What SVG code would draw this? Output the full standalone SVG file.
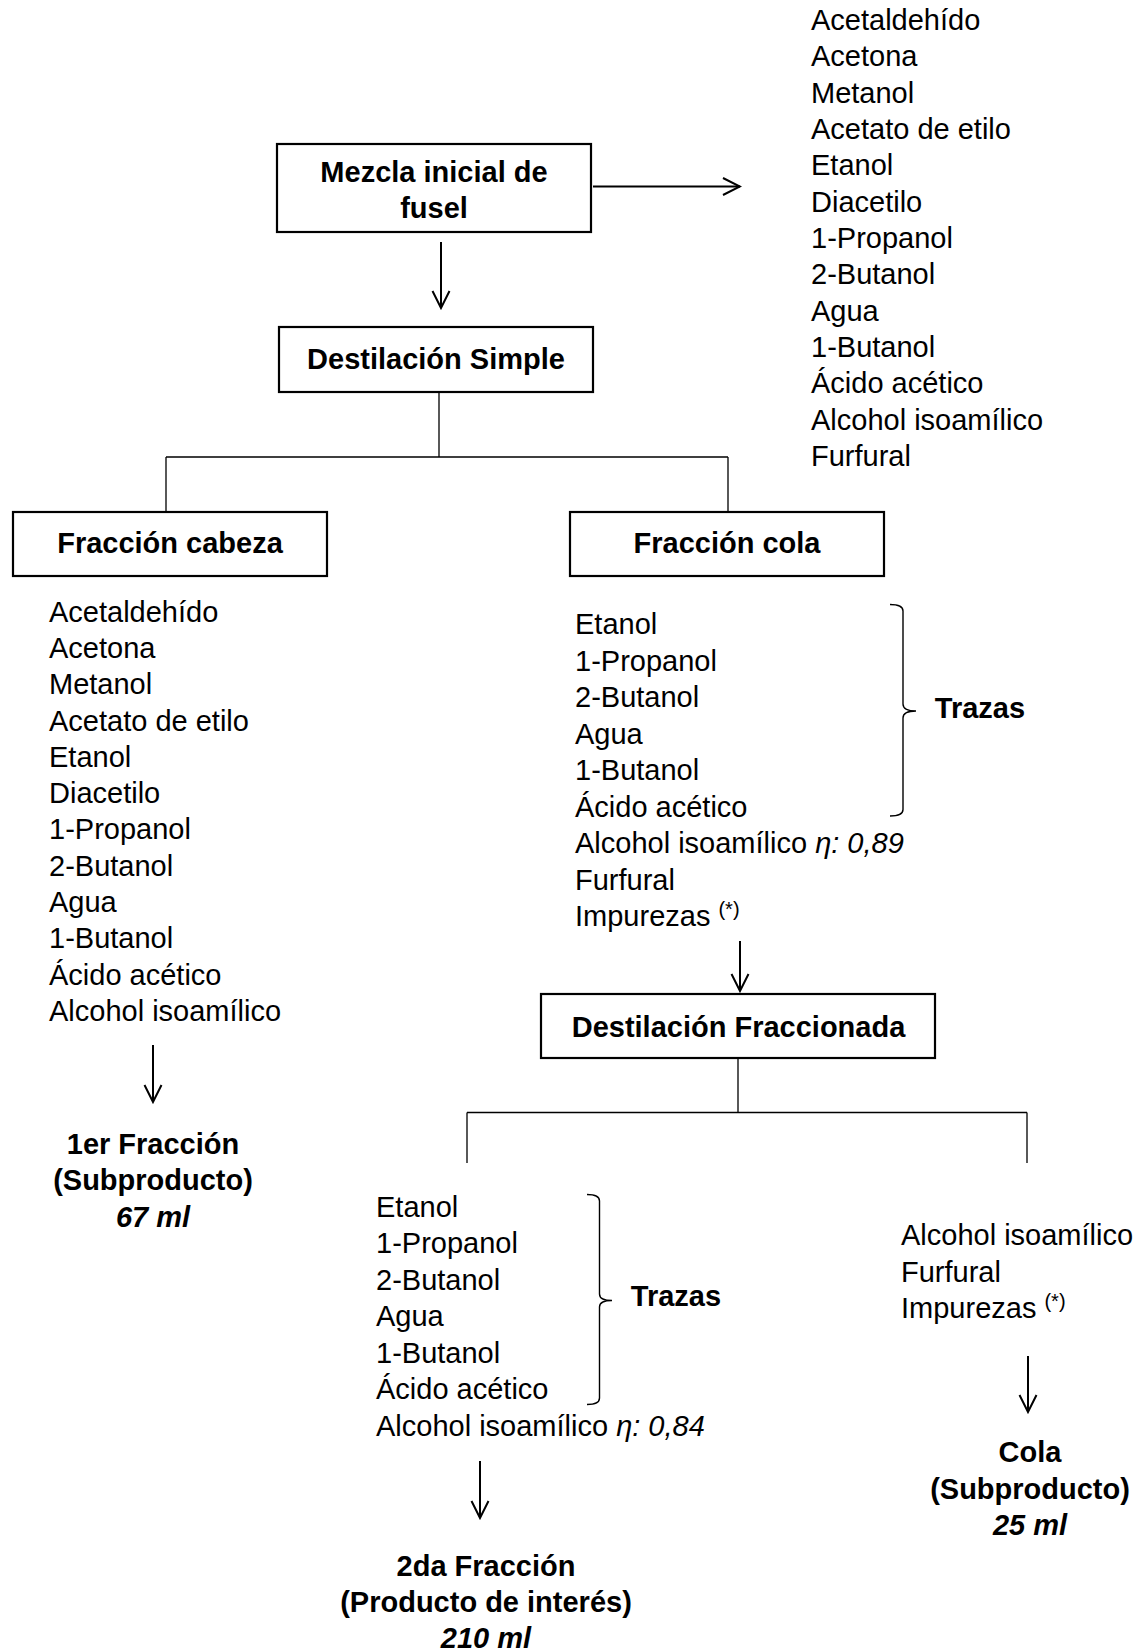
<svg xmlns="http://www.w3.org/2000/svg" width="1141" height="1652" viewBox="0 0 1141 1652">
  <style>
    .box { fill: #fff; stroke: #000; stroke-width: 2.2; }
    .link { fill: none; stroke: #000; stroke-width: 1.3; }
    .arrow { fill: none; stroke: #000; stroke-width: 2; }
    .brace { fill: none; stroke: #000; stroke-width: 1.4; }
    .t { font-family: "Liberation Sans", Arial, sans-serif; font-size: 29px; fill: #000; }
    .b { font-family: "Liberation Sans", Arial, sans-serif; font-size: 29px; font-weight: bold; fill: #000; text-anchor: middle; }
    .bi { font-style: italic; }
    .it { font-style: italic; }
    .sup { font-size: 20px; }
  </style>
  <defs>
    <marker id="vhead" viewBox="0 0 20 20" refX="18" refY="10" markerWidth="20" markerHeight="20" markerUnits="userSpaceOnUse" orient="auto">
      <path d="M1,1.5 L18,10 L1,18.5" fill="none" stroke="#000" stroke-width="2"/>
    </marker>
  </defs>

  <rect width="1141" height="1652" fill="#fff"/>

  <!-- connectors -->
  <g id="connectors">
    <line class="arrow" x1="593" y1="186.5" x2="740" y2="186.5" marker-end="url(#vhead)"/>
    <line class="arrow" x1="441" y1="242" x2="441" y2="308" marker-end="url(#vhead)"/>
    <path class="link" d="M439,392 V457 M166,457 H728 M166,457 V512 M728,457 V512"/>
    <line class="arrow" x1="153" y1="1045" x2="153" y2="1102" marker-end="url(#vhead)"/>
    <line class="arrow" x1="740" y1="941" x2="740" y2="991" marker-end="url(#vhead)"/>
    <path class="link" d="M738,1058 V1112.5 M467,1112.5 H1027 M467,1112.5 V1163 M1027,1112.5 V1163"/>
    <line class="arrow" x1="480" y1="1461" x2="480" y2="1518" marker-end="url(#vhead)"/>
    <line class="arrow" x1="1028" y1="1356" x2="1028" y2="1412" marker-end="url(#vhead)"/>
  </g>

  <!-- initial mixture -->
  <g id="mezcla">
    <rect class="box" x="277" y="144" width="314" height="88"/>
    <text class="b" x="434" y="182">Mezcla inicial de</text>
    <text class="b" x="434" y="218">fusel</text>
  </g>

  <g id="composicion-inicial">
    <text class="t">
      <tspan x="811" y="30">Acetaldehído</tspan>
      <tspan x="811" y="66.3">Acetona</tspan>
      <tspan x="811" y="102.7">Metanol</tspan>
      <tspan x="811" y="139">Acetato de etilo</tspan>
      <tspan x="811" y="175.3">Etanol</tspan>
      <tspan x="811" y="211.7">Diacetilo</tspan>
      <tspan x="811" y="248">1-Propanol</tspan>
      <tspan x="811" y="284.3">2-Butanol</tspan>
      <tspan x="811" y="320.7">Agua</tspan>
      <tspan x="811" y="357">1-Butanol</tspan>
      <tspan x="811" y="393.3">Ácido acético</tspan>
      <tspan x="811" y="429.7">Alcohol isoamílico</tspan>
      <tspan x="811" y="466">Furfural</tspan>
    </text>
  </g>

  <g id="destilacion-simple">
    <rect class="box" x="279" y="327" width="314" height="65"/>
    <text class="b" x="436" y="369">Destilación Simple</text>
  </g>

  <g id="fraccion-cabeza">
    <rect class="box" x="13" y="512" width="314" height="64"/>
    <text class="b" x="170" y="553">Fracción cabeza</text>
  </g>

  <g id="fraccion-cola">
    <rect class="box" x="570" y="512" width="314" height="64"/>
    <text class="b" x="727" y="553">Fracción cola</text>
  </g>

  <g id="composicion-cabeza">
    <text class="t">
      <tspan x="49" y="621.6">Acetaldehído</tspan>
      <tspan x="49" y="657.9">Acetona</tspan>
      <tspan x="49" y="694.2">Metanol</tspan>
      <tspan x="49" y="730.5">Acetato de etilo</tspan>
      <tspan x="49" y="766.8">Etanol</tspan>
      <tspan x="49" y="803.1">Diacetilo</tspan>
      <tspan x="49" y="839.4">1-Propanol</tspan>
      <tspan x="49" y="875.7">2-Butanol</tspan>
      <tspan x="49" y="912">Agua</tspan>
      <tspan x="49" y="948.3">1-Butanol</tspan>
      <tspan x="49" y="984.6">Ácido acético</tspan>
      <tspan x="49" y="1020.9">Alcohol isoamílico</tspan>
    </text>
  </g>

  <g id="primera-fraccion">
    <text class="b" x="153" y="1153.6">1er Fracción</text>
    <text class="b" x="153" y="1190.4">(Subproducto)</text>
    <text class="b bi" x="153" y="1226.5">67 ml</text>
  </g>

  <g id="composicion-cola">
    <text class="t">
      <tspan x="575" y="634.2">Etanol</tspan>
      <tspan x="575" y="670.7">1-Propanol</tspan>
      <tspan x="575" y="707.2">2-Butanol</tspan>
      <tspan x="575" y="743.7">Agua</tspan>
      <tspan x="575" y="780.2">1-Butanol</tspan>
      <tspan x="575" y="816.7">Ácido acético</tspan>
      <tspan x="575" y="853.2">Alcohol isoamílico <tspan class="it">η: 0,89</tspan></tspan>
      <tspan x="575" y="889.7">Furfural</tspan>
      <tspan x="575" y="926.2">Impurezas <tspan class="sup" dy="-10">(*)</tspan></tspan>
    </text>
    <path class="brace" d="M890,604.5 Q903,604.5 903,611 V704 Q903,711 916,711 Q903,711 903,718 V809.5 Q903,816 890,816"/>
    <text class="b" x="980" y="717.5">Trazas</text>
  </g>

  <g id="destilacion-fraccionada">
    <rect class="box" x="541" y="994" width="394" height="64"/>
    <text class="b" x="738.5" y="1036.6">Destilación Fraccionada</text>
  </g>

  <g id="composicion-segunda">
    <text class="t">
      <tspan x="376" y="1216.8">Etanol</tspan>
      <tspan x="376" y="1253.3">1-Propanol</tspan>
      <tspan x="376" y="1289.8">2-Butanol</tspan>
      <tspan x="376" y="1326.3">Agua</tspan>
      <tspan x="376" y="1362.8">1-Butanol</tspan>
      <tspan x="376" y="1399.3">Ácido acético</tspan>
      <tspan x="376" y="1435.8">Alcohol isoamílico <tspan class="it">η: 0,84</tspan></tspan>
    </text>
    <path class="brace" d="M587,1194.5 Q599.5,1194.5 599.5,1201 V1294 Q599.5,1300.5 612,1300.5 Q599.5,1300.5 599.5,1307 V1398 Q599.5,1404.5 587,1404.5"/>
    <text class="b" x="676" y="1306">Trazas</text>
  </g>

  <g id="segunda-fraccion">
    <text class="b" x="486" y="1576">2da Fracción</text>
    <text class="b" x="486" y="1612">(Producto de interés)</text>
    <text class="b bi" x="486" y="1648">210 ml</text>
  </g>

  <g id="composicion-residuo">
    <text class="t">
      <tspan x="901" y="1245">Alcohol isoamílico</tspan>
      <tspan x="901" y="1281.5">Furfural</tspan>
      <tspan x="901" y="1318">Impurezas <tspan class="sup" dy="-10">(*)</tspan></tspan>
    </text>
  </g>

  <g id="cola">
    <text class="b" x="1030" y="1462">Cola</text>
    <text class="b" x="1030" y="1499">(Subproducto)</text>
    <text class="b bi" x="1030" y="1535">25 ml</text>
  </g>
</svg>
